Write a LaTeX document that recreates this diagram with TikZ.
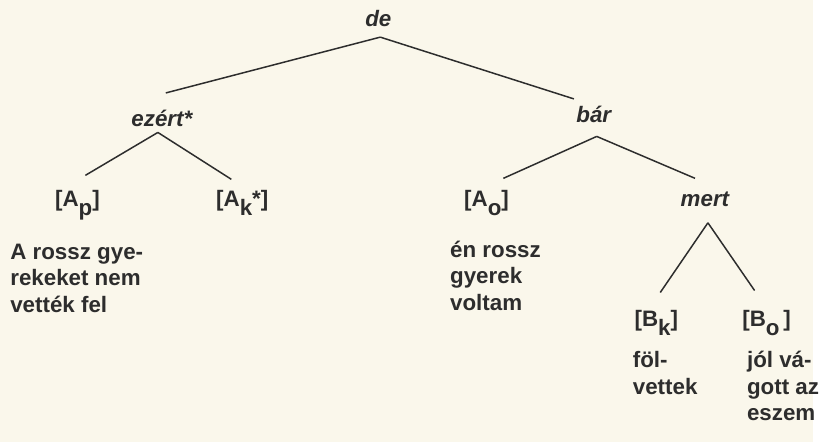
\documentclass[tikz,border=0pt]{standalone}
\usepackage{fontspec}
\setmainfont{Liberation Sans}
\definecolor{paper}{RGB}{250,247,235}
\definecolor{ink}{RGB}{45,45,45}
\newcommand{\lowr}[1]{\raisebox{-4.5pt}{#1}}

\begin{document}
\begin{tikzpicture}[x=0.5pt,y=-0.5pt,
  every node/.style={font=\fontsize{11.25}{13.5}\selectfont\bfseries,text=ink,inner sep=0pt,anchor=base},
  lbl/.style={text height=8pt,text depth=0pt},
  txt/.style={align=left,anchor=base west},
  conn/.style={ink,line width=0.75pt}]
  \fill[paper] (0,0) rectangle (819,445);
  % tree labels
  \node[lbl] (de) at (381,27) {\itshape de};
  \node[lbl] (ezert) at (163,127) {\itshape ezért*};
  \node[lbl] (bar) at (598,123) {\itshape bár};
  \node[lbl] (ap) at (78,208) {[A\lowr{p}]};
  \node[lbl] (ak) at (244,208) {[A\lowr{k}*]};
  \node[lbl] (ao) at (490,208) {[A\lowr{o}]};
  \node[lbl] (mert) at (710,208) {\itshape mert};
  \node[lbl] (bk) at (661,329) {[B\lowr{k}]};
  \node[lbl] (bo) at (772,329) {[B\lowr{o}\,]};
  % clauses (placed by the baseline of their last line)
  \node[txt] (aptxt) at (10,315) {A rossz gye-\\rekeket nem\\vették fel};
  \node[txt] (aotxt) at (453,313) {én rossz\\gyerek\\voltam};
  \node[txt] (bktxt) at (637,397) {föl-\\vettek};
  \node[txt] (botxt) at (752,424) {jól vá-\\gott az\\eszem};
  % branches
  \draw[conn] ([xshift=1pt,yshift=-5pt]de.south) -- ([xshift=2pt,yshift=8.5pt]ezert.north);
  \draw[conn] ([xshift=1pt,yshift=-5pt]de.south) -- ([xshift=-10pt,yshift=3.5pt]bar.north);
  \draw[conn] ([xshift=-2pt,yshift=-3pt]ezert.south) -- ([xshift=4pt,yshift=7.5pt]ap.north);
  \draw[conn] ([xshift=-2pt,yshift=-3pt]ezert.south) -- ([xshift=-5.5pt,yshift=5.5pt]ak.north);
  \draw[conn] ([xshift=1.5pt,yshift=-7pt]bar.south) -- ([xshift=8.5pt,yshift=6pt]ao.north);
  \draw[conn] ([xshift=1.5pt,yshift=-7pt]bar.south) -- ([xshift=-5pt,yshift=6pt]mert.north);
  \draw[conn] ([xshift=1.5pt,yshift=-8pt]mert.south) -- ([xshift=2pt,yshift=9pt]bk.north);
  \draw[conn] ([xshift=1.5pt,yshift=-8pt]mert.south) -- ([xshift=-6pt,yshift=10pt]bo.north);
\end{tikzpicture}
\end{document}
